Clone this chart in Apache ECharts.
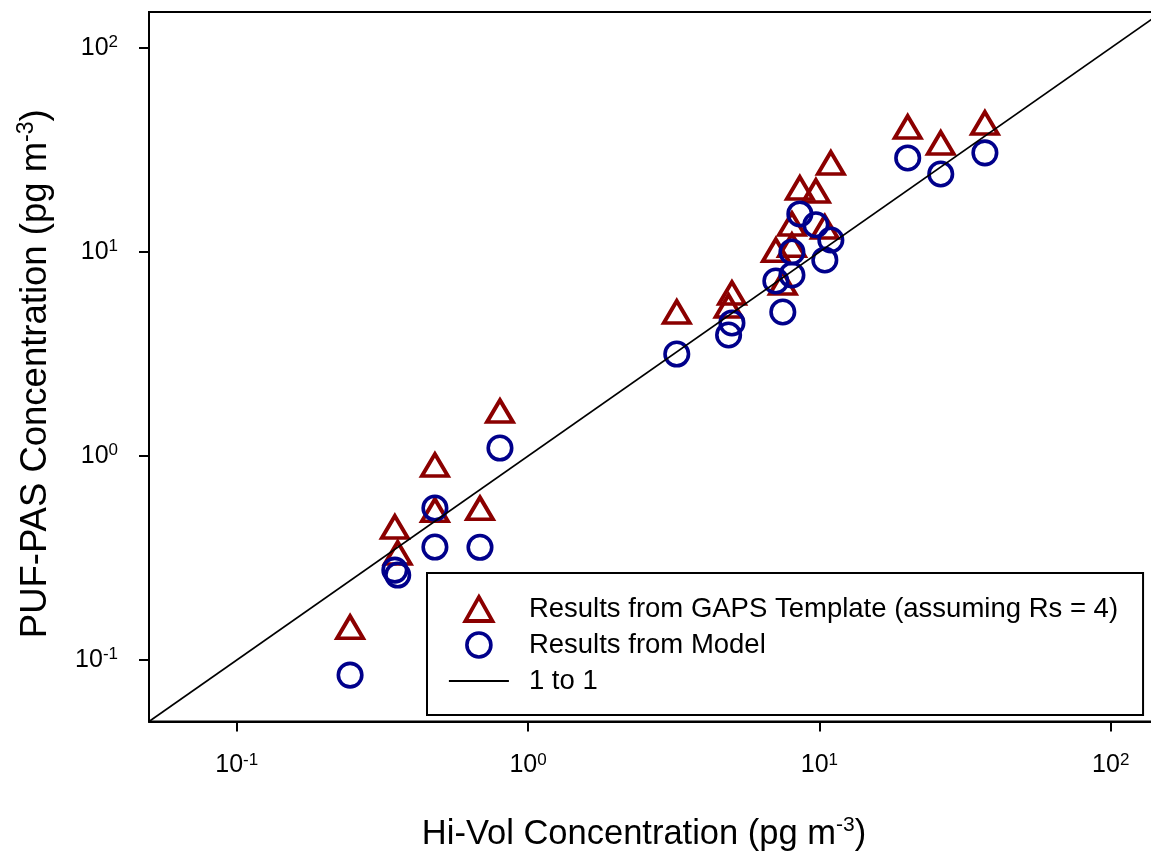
<!DOCTYPE html>
<html>
<head>
<meta charset="utf-8">
<script src="https://cdn.jsdelivr.net/npm/echarts@6/dist/echarts.min.js"></script>
<style>
html,body{margin:0;padding:0;background:#fff;}
#chart{width:1151px;height:854px;}
</style>
</head>
<body>
<div id="chart"></div>
<script>
// Hi-Vol concentration (x) for each sample
const hiVol = [0.245, 0.349, 0.357, 0.479, 0.479, 0.684, 0.801, 3.24, 5.01, 4.88, 10.95, 9.73, 8.57, 10.44, 8.05, 8.05, 7.09, 7.49, 20.1, 26.1, 37.0];
// PUF-PAS from GAPS template (triangles)
const gapsTemplate = [0.145, 0.449, 0.335, 0.903, 0.543, 0.554, 1.66, 5.08, 6.29, 5.44, 27.3, 19.9, 20.6, 13.27, 13.7, 10.8, 10.2, 7.05, 41.0, 34.2, 42.9];
// PUF-PAS from model (circles)
const modelResults = [0.0844, 0.276, 0.261, 0.556, 0.358, 0.357, 1.094, 3.16, 4.49, 3.92, 11.45, 13.6, 15.36, 9.14, 10.0, 7.71, 7.21, 5.08, 28.9, 24.1, 30.6];
// 1 to 1 line end points
const oneToOne = [0.05, 150];
// axis ticks
const tickValues = [0.1, 1, 10, 100];
const axisMin = 0.05, axisMax = 150;

const seriesNames = ['Results from GAPS Template (assuming Rs = 4)', 'Results from Model', '1 to 1'];

const FONT = "'Liberation Sans', Arial, Helvetica, sans-serif";
const RED = '#8b0000';
const BLUE = '#00008b';

function pairs(xs, ys) { return xs.map((x, i) => [x, ys[i]]); }

function expLabel(v) {
  const e = Math.round(Math.log10(v));
  return '{b|10}{s|' + e + '}';
}
const labelRich = {
  b: { fontSize: 25, fontFamily: FONT, color: '#000', lineHeight: 28 },
  s: { fontSize: 17, fontFamily: FONT, color: '#000', verticalAlign: 'top', lineHeight: 20 }
};

function makeAxis(isX) {
  const tSize = isX ? 34.5 : 36.5;
  return {
    type: 'log',
    logBase: 10,
    min: axisMin,
    max: axisMax,
    axisLine: { show: true, onZero: false, lineStyle: { color: '#000', width: 2 } },
    axisTick: { show: true, inside: false, length: 10, lineStyle: { color: '#000', width: 2 }, customValues: tickValues },
    axisLabel: { show: true, margin: isX ? 30 : 31, formatter: expLabel, rich: labelRich, customValues: tickValues },
    splitLine: { show: false },
    minorTick: { show: false },
    nameLocation: 'middle',
    nameGap: isX ? 93 : 92,
    name: isX ? '{t|Hi-Vol Concentration (pg m}{s|-3}{t|)}' : '{t|PUF-PAS Concentration (pg m}{s|-3}{t|)}',
    nameTextStyle: {
      padding: isX ? [0, 23, 0, 0] : [0, 14, 0, 0],
      rich: {
        t: { fontSize: tSize, fontFamily: FONT, color: '#000', lineHeight: tSize + 5 },
        s: { fontSize: Math.round(tSize * 0.62), fontFamily: FONT, color: '#000', verticalAlign: 'top', lineHeight: Math.round(tSize * 0.75) }
      }
    }
  };
}

const chart = echarts.init(document.getElementById('chart'), null, { renderer: 'canvas' });
chart.setOption({
  animation: false,
  backgroundColor: '#fff',
  grid: { left: 149, top: 12, width: 1013, height: 709.5, outerBoundsMode: 'none', show: true, borderColor: '#000', borderWidth: 2, backgroundColor: 'transparent', containLabel: false },
  xAxis: makeAxis(true),
  yAxis: makeAxis(false),
  legend: {
    orient: 'vertical',
    left: 427,
    top: 573,
    padding: [21, 25, 19, 21],
    itemWidth: 60,
    itemHeight: 24,
    itemGap: 6,
    borderColor: '#000',
    borderWidth: 2,
    selectedMode: false,
    symbolKeepAspect: true,
    itemStyle: { borderWidth: 3.8 },
    textStyle: { fontSize: 27.5, fontFamily: FONT, color: '#000', lineHeight: 30, padding: [0, 0, 0, 15] },
    data: [
      { name: seriesNames[0], icon: 'path://M13,0 L26,23 L0,23 Z', itemStyle: { color: 'rgba(0,0,0,0)', borderColor: RED, borderWidth: 3.8, opacity: 1 } },
      { name: seriesNames[1], icon: 'circle', itemStyle: { color: 'rgba(0,0,0,0)', borderColor: BLUE, borderWidth: 3.6, opacity: 1 } },
      { name: seriesNames[2], itemStyle: { color: 'rgba(0,0,0,0)', borderWidth: 0, opacity: 0 }, lineStyle: { color: '#000', width: 1.8 } }
    ]
  },
  series: [
    {
      name: seriesNames[0],
      type: 'scatter',
      symbol: 'triangle',
      symbolSize: [26, 22],
      itemStyle: { color: 'rgba(0,0,0,0)', borderColor: RED, borderWidth: 3.8, opacity: 1 },
      data: pairs(hiVol, gapsTemplate),
      z: 2
    },
    {
      name: seriesNames[1],
      type: 'scatter',
      symbol: 'circle',
      symbolSize: 23.5,
      itemStyle: { color: 'rgba(0,0,0,0)', borderColor: BLUE, borderWidth: 3.6, opacity: 1 },
      data: pairs(hiVol, modelResults),
      z: 3
    },
    {
      name: seriesNames[2],
      type: 'line',
      symbol: 'none',
      itemStyle: { color: 'rgba(0,0,0,0)' },
      lineStyle: { color: '#000', width: 1.6 },
      data: pairs(oneToOne, oneToOne),
      z: 4
    }
  ]
});
</script>
</body>
</html>
